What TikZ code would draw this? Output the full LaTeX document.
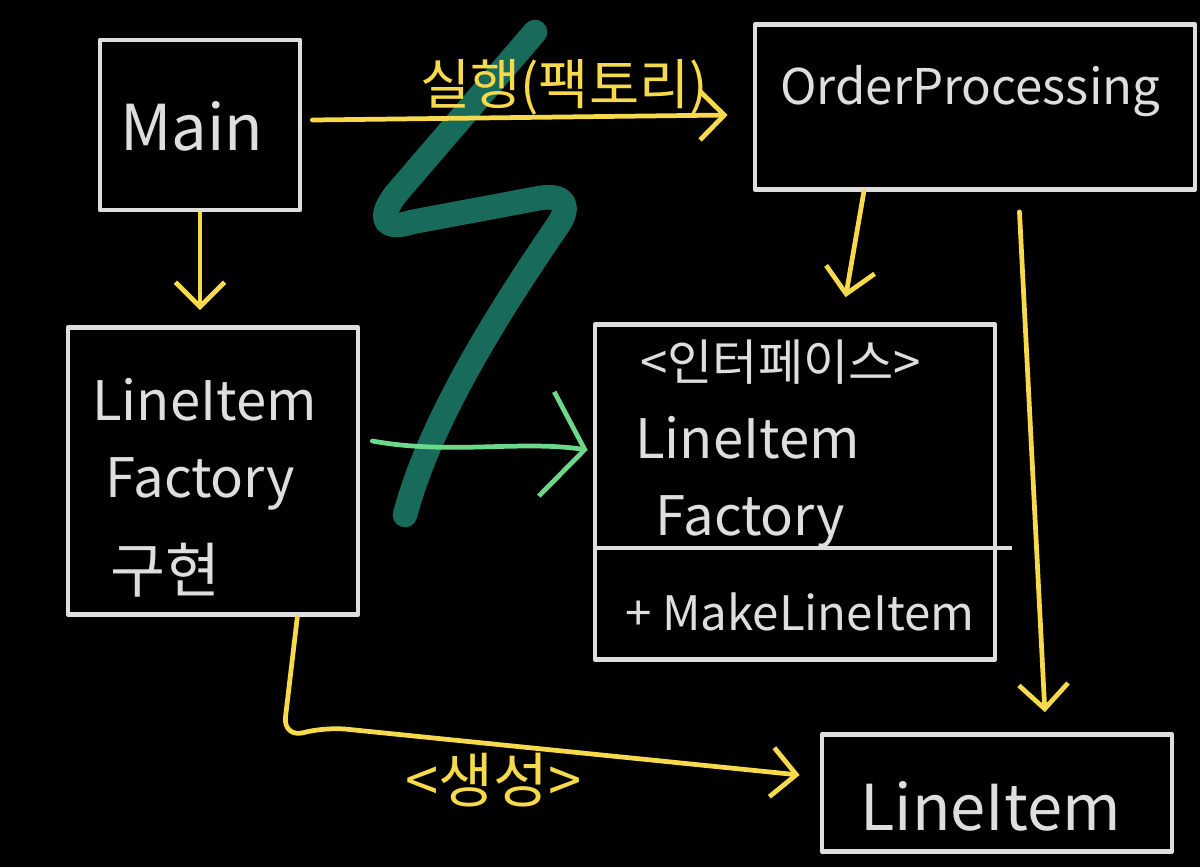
\documentclass[tikz,border=0pt]{standalone}
\usepackage{fontspec}
\setmainfont{Noto Sans CJK KR}
\usetikzlibrary{arrows.meta,calc}
\definecolor{chalk}{HTML}{DEDEDE}
\definecolor{chalkyellow}{HTML}{F7D94C}
\definecolor{chalkgreen}{HTML}{6CD98A}
\definecolor{tealstroke}{HTML}{186A5B}
\tikzset{
  box/.style={draw=chalk, line width=2.7pt, inner sep=0pt, line join=round},
  txt/.style={text=chalk, inner sep=0pt, anchor=base west},
  ytxt/.style={text=chalkyellow, inner sep=0pt, anchor=base west},
  yarrow/.style={draw=chalkyellow, line width=2.7pt, line cap=round, line join=round,
     -{Straight Barb[length=14pt,width=28pt,line width=2.7pt]}},
  garrow/.style={draw=chalkgreen, line width=2.7pt, line cap=round, line join=round,
     -{Straight Barb[length=22pt,width=60pt,line width=2.7pt]}},
  zig/.style={draw=tealstroke, line width=14pt, line cap=round, line join=round},
}
\begin{document}
\begin{tikzpicture}[x=0.02cm,y=-0.02cm]
\fill[black] (0,0) rectangle (1200,867);
\useasboundingbox (0,0) rectangle (1200,867);

% teal zigzag stroke
\draw[zig] (535,32) -- (395,195) .. controls (375,222) and (388,230) .. (412,222)
  -- (540,198) .. controls (565,194) and (572,206) .. (556,228)
  .. controls (500,310) and (430,420) .. (405,515);

% boxes
\node[box, minimum width=4cm, minimum height=3.4cm] (main) at (200,125) {};
\node[box, minimum width=8.8cm, minimum height=3.3cm] (order) at (975,107) {};
\node[box, minimum width=5.8cm, minimum height=5.74cm] (impl) at (213,471) {};
\node[box, minimum width=8cm, minimum height=6.7cm] (iface) at (795,492) {};
\node[box, minimum width=7cm, minimum height=2.34cm] (item) at (997,793) {};
\coordinate (sep) at (0,548);
\draw[draw=chalk, line width=2.7pt] (iface.west |- sep) -- ([xshift=0.3cm]iface.east |- sep);

% texts
\node[txt, font=\fontsize{36}{40}\selectfont] (tmain) at (120,150) {Main};
\node[txt, font=\fontsize{28}{32}\selectfont] (torder) at (780,104) {OrderProcessing};
\node[txt, font=\fontsize{31}{34}\selectfont] (timpl1) at (92,420) {LineItem};
\node[txt, font=\fontsize{31}{34}\selectfont] (timpl2) at (105,497) {Factory};
\node[txt, font=\fontsize{34}{38}\selectfont] (timpl3) at (110,592) {구현};
\node[txt, font=\fontsize{28}{32}\selectfont] (tif1) at (640,380) {<인터페이스>};
\node[txt, font=\fontsize{31}{34}\selectfont] (tif2) at (635,458) {LineItem};
\node[txt, font=\fontsize{31}{34}\selectfont] (tif3) at (655,535) {Factory};
\node[txt, font=\fontsize{27}{30}\selectfont] (tif4) at (625,630) {+ MakeLineItem};
\node[txt, font=\fontsize{36}{40}\selectfont] (titem) at (860,830) {LineItem};
\node[ytxt, font=\fontsize{31}{34}\selectfont] (lrun) at (420,104) {실행(팩토리)};
\node[ytxt, font=\fontsize{34}{38}\selectfont] (lmake) at (405,802) {<생성>};

% connectors
\draw[yarrow] ($(main.east)+(10,-5)$) -- ($(order.west)+(-25,8)$);
\draw[yarrow] (main.south) -- ($(main.south |- impl.north)+(0,-15)$);
\draw[yarrow] ($(order.south west)!0.25!(order.south east)$)
  -- ($(iface.north west)!0.625!(iface.north east)+(0,-25)$);
\draw[yarrow] ($(order.south west)!0.6!(order.south east)+(0,20)$)
  -- ($(item.north west)!0.635!(item.north east)+(0,-20)$);
\draw[garrow] ($(impl.east)+(12,-30)$) .. controls (450,455) and (520,440) .. ($(iface.west)+(-5,-42)$);
\coordinate (c1) at (283,738);
\coordinate (c2) at (325,727);
\draw[yarrow, rounded corners=12pt] ($(impl.south east)+(-63,0)$) -- (c1) -- (c2) -- ($(item.west)+(-20,-18)$);
\end{tikzpicture}
\end{document}
